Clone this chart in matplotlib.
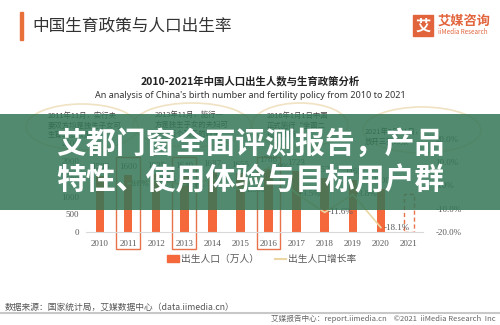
import matplotlib
matplotlib.use("Agg")
import matplotlib.pyplot as plt
import matplotlib.patches as mpatches
import matplotlib.transforms as mtransforms
from matplotlib.lines import Line2D

plt.rcParams['font.family'] = ['Noto Sans CJK SC', 'DejaVu Sans']

# data
years = ['2010', '2011', '2012', '2013', '2014', '2015', '2016', '2017', '2018', '2019', '2020', '2021']
births = [1588, 1600, 1635, 1640, 1687, 1655, 1786, 1723, 1523, 1465, 1200, 1062]   # 万人
growth_years = ['2011', '2012', '2013', '2014', '2015', '2016', '2017', '2018', '2019', '2020']
growth = [0.8, 2.2, 0.3, 2.9, -1.9, 7.9, -3.5, -11.6, -3.8, -18.1]                   # %
highlight_years = ['2011', '2013', '2016']
left_ticks = [0, 500, 1000, 1500, 2000, 2500]
right_ticks = [-20, -10, 0, 10, 20]
notes = ["2011年11月，实行夫\n妻双方均是独生子女可\n生育二胎政策",
         "2013年11月，施行一\n方是独生子女的夫妇可\n生育两个孩子的政策",
         "2016年1月1日中国\n正式施行“全面二\n孩”政策",
         "2021年5月31日，\n放开三孩政策"]

ORANGE = '#f4683c'
BEIGE = '#ead7a4'
GRAY = '#595959'
SERIF = 'Liberation Serif'

W, H = 500, 325
fig = plt.figure(figsize=(5, 3.25), dpi=100)
fig.patch.set_facecolor('white')

def fx(x):
    return x / W

def fy(y):
    return 1 - y / H

# ---- chart
ax = fig.add_axes([fx(86), fy(232), fx(423) - fx(86), fy(139) - fy(232)])
xs = list(range(len(years)))
ax.bar(xs[:-1], births[:-1], width=0.3, color=ORANGE, zorder=2)
ax.bar(xs[-1], births[-1], width=0.38, fill=False, edgecolor='#e8734a',
       linestyle=(0, (3, 2)), lw=1, zorder=2)
for i, b in enumerate(births[:-1]):
    ax.annotate(str(b), (i, b), xytext=(0, 3), textcoords='offset points',
                ha='center', va='bottom', fontsize=6.5, color=GRAY, family=SERIF)

ax.set_xlim(-0.5, len(years) - 0.5)
ax.set_ylim(0, 2620)
ax.set_yticks(left_ticks)
ax.set_xticks(xs, years)
for s in ['top', 'left', 'right']:
    ax.spines[s].set_visible(False)
ax.spines['bottom'].set_color('#d9d9d9')
ax.tick_params(length=0, labelsize=6.5, colors=GRAY)
ax.tick_params(axis='y', pad=5)
ax.tick_params(axis='x', pad=6)
for t in ax.get_xticklabels() + ax.get_yticklabels():
    t.set_family(SERIF)

ax2 = ax.twinx()
gx = [years.index(y) for y in growth_years]
ax2.plot(gx, growth, color=BEIGE, lw=1.2, zorder=3)
for i, g in zip(gx, growth):
    ax2.annotate(f"{g:.1f}%", (i, g), xytext=(2, 0), textcoords='offset points',
                 ha='left', va='center', fontsize=6.5, color=GRAY, family=SERIF)
ax2.set_ylim(-20, 19.7)
ax2.set_yticks(right_ticks, [f"{v:.1f}%" for v in right_ticks])
for s in ax2.spines.values():
    s.set_visible(False)
ax2.tick_params(length=0, labelsize=6.5, colors=GRAY, pad=9)
for t in ax2.get_yticklabels():
    t.set_family(SERIF)

# policy boxes
trans = mtransforms.blended_transform_factory(ax.transData, ax.transAxes)
for y in highlight_years:
    i = years.index(y)
    ax.add_patch(mpatches.Rectangle((i - 0.42, -0.183), 0.84, 0.99, transform=trans,
                                    fill=False, edgecolor='#e8734a', lw=1, clip_on=False))

# legend
handles = [mpatches.Patch(color=ORANGE), Line2D([0], [0], color=BEIGE, lw=1.5)]
fig.legend(handles, ['出生人口（万人）', '出生人口增长率'], loc='center',
           bbox_to_anchor=(fx(262), fy(259)), ncol=2, frameon=False, fontsize=7,
           labelcolor=GRAY, handlelength=1.2, handleheight=0.7, handletextpad=0.2,
           columnspacing=1.6)

# annotation bubbles
bubbles = [(82, 127, 112, 46), (192, 125, 118, 44), (300, 125, 96, 44), (422, 130, 118, 46)]
note_pos = [(48, 112), (155, 111), (267, 112), (365, 128)]
for (cx, cy, w, h), (tx, ty), note in zip(bubbles, note_pos, notes):
    fig.add_artist(mpatches.Ellipse((fx(cx), fy(cy)), w / W, h / H, transform=fig.transFigure,
                                    fill=False, edgecolor='#f0e2c2', lw=1.2, zorder=1))
    fig.text(fx(tx), fy(ty), note, fontsize=5.3, color='#444444', va='top',
             linespacing=1.25, zorder=2)

# header
fig.add_artist(mpatches.Rectangle((fx(20), fy(40)), 3 / W, 28 / H, transform=fig.transFigure,
                                  color='#e8703a'))
fig.text(fx(32), fy(26), '中国生育政策与人口出生率', fontsize=12, color='#333333', va='center')
fig.add_artist(mpatches.Rectangle((fx(413), fy(36)), 20 / W, 21 / H, transform=fig.transFigure,
                                  color='#e2643c'))
fig.text(fx(423), fy(25.5), '艾', fontsize=11, color='white', weight='bold',
         ha='center', va='center')
fig.text(fx(438), fy(21), '艾媒咨询', fontsize=9.5, color='#e2643c', weight='bold', va='center')
fig.text(fx(438), fy(32.5), 'iiMedia Research', fontsize=4.5, color='#e2643c', va='center')

fig.text(0.5, fy(81), '2010-2021年中国人口出生人数与生育政策分析', fontsize=7.5,
         weight='bold', color='#222222', ha='center', va='center')
fig.text(0.5, fy(96), "An analysis of China's birth number and fertility policy from 2010 to 2021",
         fontsize=6.5, color='#333333', ha='center', va='center', family='Noto Sans')

# footer
fig.add_artist(Line2D([0, 1], [fy(313), fy(313)], transform=fig.transFigure,
                      color='#c8c8c8', lw=1.5))
fig.text(fx(5), fy(307), '数据来源：国家统计局，艾媒数据中心（data.iimedia.cn）',
         fontsize=6.3, color='#555555', va='center')
fig.text(fx(496), fy(318.5), '艾媒报告中心：report.iimedia.cn    ©2021  iiMedia Research  Inc',
         fontsize=5.5, color='#666666', ha='right', va='center')

# green banner overlay
fig.add_artist(mpatches.Rectangle((0, fy(210)), 1, 96 / H, transform=fig.transFigure,
                                  color=(52 / 255, 118 / 255, 87 / 255), alpha=0.85,
                                  lw=0, zorder=10))
fig.text(0.5, fy(144), '艾都门窗全面评测报告，产品', fontsize=21.5, color='white',
         weight='heavy', ha='center', va='center', zorder=11)
fig.text(0.5, fy(180), '特性、使用体验与目标用户群', fontsize=21.5, color='white',
         weight='heavy', ha='center', va='center', zorder=11)

fig.savefig('out.png', dpi=100)
